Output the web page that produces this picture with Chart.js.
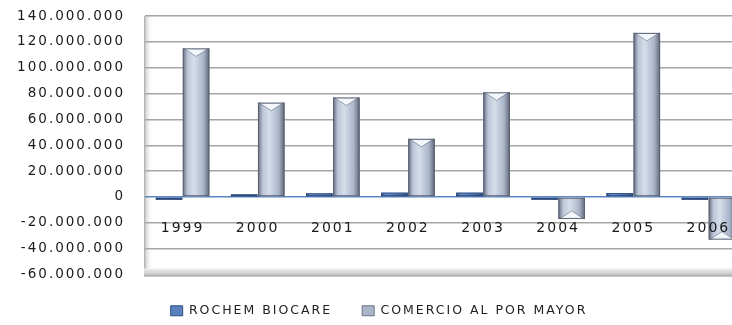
<!DOCTYPE html>
<html>
<head>
<meta charset="utf-8">
<script src="https://cdn.jsdelivr.net/npm/chart.js@4/dist/chart.umd.min.js"></script>
<style>
  html, body { margin: 0; padding: 0; background: #fff; overflow: hidden; width: 732px; height: 325px; }
  #wrap { position: relative; width: 766px; height: 337px; margin-top: -12px; }
</style>
</head>
<body>
<div id="wrap"><canvas id="chart" width="766" height="337"></canvas></div>
<script>
// Annual results, 1999-2006
const years = ['1999', '2000', '2001', '2002', '2003', '2004', '2005', '2006'];
const rochemBiocare = [-800000, 2000000, 2800000, 3300000, 3300000, -1500000, 3000000, -2000000];
const comercioMayor = [115000000, 73000000, 77000000, 45000000, 81000000, -17000000, 127000000, -33000000];
const seriesNames = ['ROCHEM BIOCARE', 'COMERCIO AL POR MAYOR'];

// value axis range
const yMin = -60000000;
const yMax = 140000000;
const yStep = 20000000;

const FONT = "'DejaVu Sans', Verdana, sans-serif";

function formatThousands(v) {
  const s = String(Math.abs(v)).replace(/\B(?=(\d{3})+(?!\d))/g, '.');
  return v < 0 ? '-' + s : s;
}

// wide text spacing for all labels
const spacing = {
  id: 'spacing',
  beforeUpdate(chart) { chart.ctx.letterSpacing = '2px'; },
  beforeDraw(chart) { chart.ctx.letterSpacing = '2px'; }
};

// side wall and floor of the plot
const walls = {
  id: 'walls',
  beforeDraw(chart) {
    const { ctx, chartArea: a, scales: { y } } = chart;
    const floorY = y.getPixelForValue(yMin);
    ctx.save();
    const g = ctx.createLinearGradient(a.left - 1, 0, a.left + 8, 0);
    g.addColorStop(0, '#a9a9a9');
    g.addColorStop(0.25, '#dcdcdc');
    g.addColorStop(1, 'rgba(255,255,255,0)');
    ctx.fillStyle = g;
    ctx.fillRect(a.left - 1, a.top, 9, floorY - a.top - 4);
    ctx.restore();
  },
  beforeDatasetsDraw(chart) {
    const { ctx, chartArea: a, scales: { y } } = chart;
    const floorY = y.getPixelForValue(yMin);
    ctx.save();
    const g = ctx.createLinearGradient(0, floorY - 6, 0, floorY + 2);
    g.addColorStop(0, '#f0f0f0');
    g.addColorStop(0.5, '#d6d6d6');
    g.addColorStop(0.85, '#bdbdbd');
    g.addColorStop(1, '#8c8c8c');
    ctx.fillStyle = g;
    ctx.fillRect(a.left - 1, floorY - 6, a.right - a.left + 1, 8);
    ctx.restore();
  }
};

// shaded column bodies drawn over each bar element
const palettes = [
  { stops: ['#2f4f82', '#6b93d0', '#5c84c2', '#44679f', '#2a4676'], cap: '#9fbbe6', edge: '#2b4878' },
  { stops: ['#646d80', '#bcc6d8', '#d6deea', '#aab5c9', '#5e6777'], cap: '#f3f6fb', edge: '#5a6272' }
];
const columns = {
  id: 'columns',
  afterDatasetsDraw(chart) {
    const ctx = chart.ctx;
    chart.data.datasets.forEach((ds, di) => {
      const meta = chart.getDatasetMeta(di);
      const pal = palettes[di];
      meta.data.forEach((bar) => {
        const { x, y, base, width } = bar.getProps(['x', 'y', 'base', 'width'], true);
        const l = x - width / 2, r = x + width / 2;
        const top = Math.min(y, base), bot = Math.max(y, base);
        const h = Math.max(bot - top, 2);
        ctx.save();
        const g = ctx.createLinearGradient(l, 0, r, 0);
        g.addColorStop(0, pal.stops[0]);
        g.addColorStop(0.18, pal.stops[1]);
        g.addColorStop(0.42, pal.stops[2]);
        g.addColorStop(0.78, pal.stops[3]);
        g.addColorStop(1, pal.stops[4]);
        ctx.fillStyle = g;
        ctx.fillRect(l, top, width, h);
        if (di === 1 && h > 10) {
          const capH = Math.min(8, h / 2);
          const tipY = y < base ? y + capH : y - capH;
          ctx.beginPath();
          ctx.moveTo(l + 1, y);
          ctx.lineTo(r - 1, y);
          ctx.lineTo(x, tipY);
          ctx.closePath();
          ctx.fillStyle = pal.cap;
          ctx.fill();
          ctx.beginPath();
          ctx.moveTo(l + 1, y);
          ctx.lineTo(x, tipY);
          ctx.lineTo(r - 1, y);
          ctx.strokeStyle = 'rgba(90,98,114,0.55)';
          ctx.lineWidth = 1;
          ctx.stroke();
        } else if (di === 0) {
          ctx.fillStyle = pal.cap;
          ctx.fillRect(l + 1, top, width - 2, 1);
        }
        ctx.strokeStyle = pal.edge;
        ctx.lineWidth = 1;
        ctx.strokeRect(l + 0.5, top + 0.5, width - 1, h - 1);
        ctx.restore();
      });
    });
  }
};

new Chart(document.getElementById('chart'), {
  type: 'bar',
  data: {
    labels: years,
    datasets: [
      {
        label: seriesNames[0],
        data: rochemBiocare,
        backgroundColor: '#5a80bd',
        borderColor: '#2f4f82',
        borderWidth: 1,
        categoryPercentage: 0.72,
        barPercentage: 0.98
      },
      {
        label: seriesNames[1],
        data: comercioMayor,
        backgroundColor: '#aab5c9',
        borderColor: '#6a7386',
        borderWidth: 1,
        categoryPercentage: 0.72,
        barPercentage: 0.98
      }
    ]
  },
  options: {
    responsive: false,
    animation: false,
    devicePixelRatio: 1,
    layout: { padding: { top: 0, right: 20, bottom: -2, left: 12 } },
    plugins: {
      legend: {
        position: 'bottom',
        labels: {
          font: { family: FONT, size: 12.5 },
          color: '#222',
          boxWidth: 12,
          boxHeight: 10,
          padding: 30
        }
      },
      tooltip: { enabled: false }
    },
    scales: {
      x: {
        position: { y: -20000000 },
        grid: { display: false },
        border: { display: false },
        ticks: {
          z: 1,
          font: { family: FONT, size: 14, lineHeight: 1 },
          color: '#1a1a1a',
          padding: -9,
          maxRotation: 0,
          autoSkip: false
        },
        afterFit(scale) {
          scale.height = 0;
          scale.paddingLeft = 0;
          scale.paddingRight = 0;
        }
      },
      y: {
        min: yMin,
        max: yMax,
        border: { display: false },
        grid: {
          drawTicks: false,
          lineWidth: 1.5,
          color: (c) => (c.tick && c.tick.value === 0 ? '#5d86c5' : '#a5a5a5')
        },
        ticks: {
          stepSize: yStep,
          padding: 20,
          color: '#1a1a1a',
          font: { family: FONT, size: 13.5 },
          callback: (v) => formatThousands(v)
        },
        afterFit(scale) { scale.width = 133; }
      }
    }
  },
  plugins: [spacing, walls, columns]
});
</script>
</body>
</html>
